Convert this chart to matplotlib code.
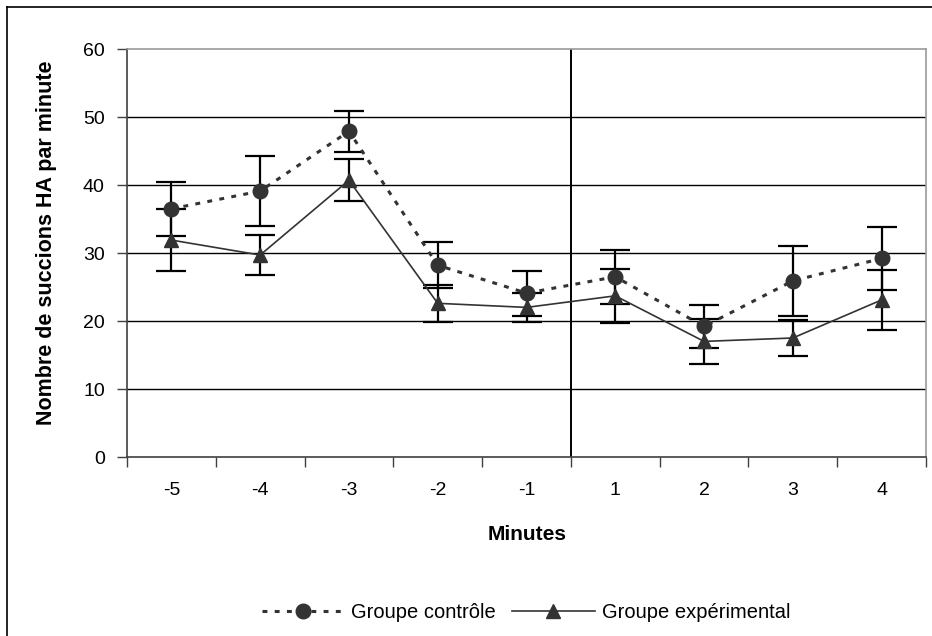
import matplotlib
matplotlib.use("Agg")
import matplotlib.pyplot as plt
from matplotlib.lines import Line2D

plt.rcParams["font.family"] = ["Liberation Sans", "DejaVu Sans"]

# minutes avant / apres le changement de stimulus
minutes = ["-5", "-4", "-3", "-2", "-1", "1", "2", "3", "4"]

controle = [36.5, 39.1, 47.9, 28.2, 24.1, 26.5, 19.2, 25.9, 29.2]
controle_err = [4.0, 5.1, 3.0, 3.4, 3.3, 4.0, 3.1, 5.2, 4.6]

experimental = [31.9, 29.7, 40.7, 22.6, 22.0, 23.7, 17.0, 17.5, 23.1]
experimental_err = [4.6, 2.9, 3.1, 2.7, 2.1, 4.0, 3.3, 2.6, 4.4]

y_ticks = [0, 10, 20, 30, 40, 50, 60]

W, H = 932, 636
fig = plt.figure(figsize=(W / 100, H / 100), dpi=100)
ax = fig.add_axes([127 / W, 1 - 457 / H, 799 / W, 408 / H])

x = list(range(len(minutes)))
grey = "#333333"

# grille horizontale
for v in y_ticks[1:-1]:
    ax.axhline(v, color="black", lw=1.0, zorder=1)
# separation entre avant et apres
ax.axvline(4.5, color="black", lw=1.4, zorder=1)

ax.errorbar(x, controle, yerr=controle_err, fmt="none", ecolor="black",
            elinewidth=1.6, capsize=11, capthick=1.6, zorder=3)
ax.errorbar(x, experimental, yerr=experimental_err, fmt="none", ecolor="black",
            elinewidth=1.6, capsize=11, capthick=1.6, zorder=3)

ax.plot(x, controle, color=grey, lw=2.2, linestyle=(0, (1.6, 2.4)),
        dash_capstyle="butt", marker="o", markersize=10.5,
        markerfacecolor=grey, markeredgecolor=grey, zorder=4,
        label="Groupe contrôle")
ax.plot(x, experimental, color=grey, lw=1.2, linestyle="-",
        marker="^", markersize=10.5, markerfacecolor=grey,
        markeredgecolor=grey, zorder=4, label="Groupe expérimental")

ax.set_xlim(-0.5, len(minutes) - 0.5)
ax.set_ylim(0, 60)
ax.set_yticks(y_ticks)
ax.set_yticklabels([str(v) for v in y_ticks], fontsize=14)
ax.tick_params(axis="y", length=7, width=1, pad=9, color="#404040")

ax.set_xticks([i - 0.5 for i in range(len(minutes) + 1)])
ax.set_xticklabels([])
ax.set_xticks(x, minor=True)
ax.set_xticklabels(minutes, minor=True, fontsize=14)
ax.tick_params(axis="x", which="major", length=7, width=1, color="#404040")
ax.tick_params(axis="x", which="minor", length=0, pad=18)

for side in ["left", "bottom"]:
    ax.spines[side].set_color("#404040")
    ax.spines[side].set_linewidth(1.2)
for side in ["top", "right"]:
    ax.spines[side].set_color("#999999")
    ax.spines[side].set_linewidth(1.2)

fig.text(47 / W, 1 - 243 / H, "Nombre de succions HA par minute",
         rotation=90, ha="center", va="center", fontsize=15.5, fontweight="bold")
fig.text(527 / W, 1 - 535 / H, "Minutes", ha="center", va="center",
         fontsize=15, fontweight="bold")

fig.legend(loc="center", bbox_to_anchor=(526 / W, 1 - 613 / H), ncol=2,
           frameon=False, fontsize=14.5, handlelength=4.1, handletextpad=0.35,
           columnspacing=0.8)

# cadre exterieur du graphique
fig.add_artist(Line2D([7 / W, 7 / W], [0, 1 - 7 / H], color="black", lw=1.2))
fig.add_artist(Line2D([7 / W, 1], [1 - 7 / H, 1 - 7 / H], color="black", lw=1.2))

fig.savefig("out.png", dpi=100)
